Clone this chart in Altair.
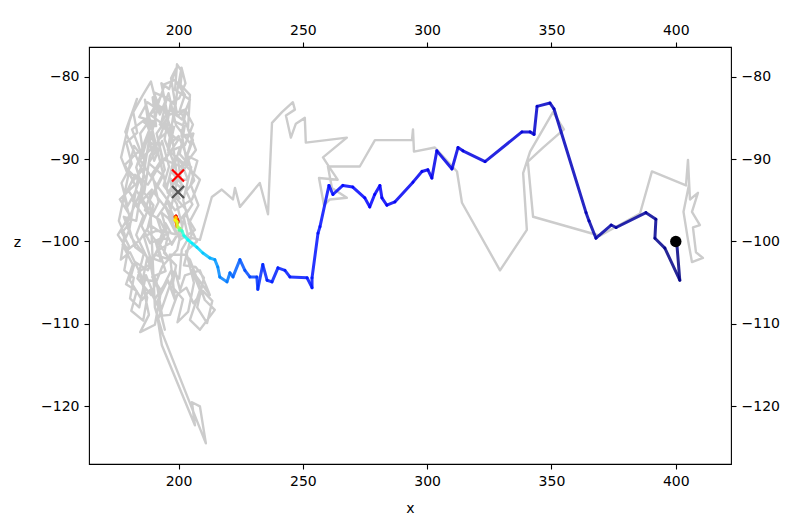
import altair as alt
import pandas as pd

# ---------------- data ----------------
# grey trajectory (earlier run)
gray_x = [200.6, 197.3, 202.6, 194.5, 199.8, 192.5, 196.5, 201.4, 204.6, 198.6,
          199.4, 201.4, 200.8, 204.6, 203.8, 207.0, 202.6, 208.6, 205.4, 198.6,
          192.5, 188.5, 184.5, 190.5, 186.5, 181.3, 184.5, 178.4, 182.5, 176.4,
          180.4, 175.6, 179.6, 184.5, 188.5, 194.5, 190.5, 196.5, 192.5, 187.7,
          182.5, 180.4, 185.3, 188.5, 192.5, 194.5, 191.7, 195.7, 198.6, 196.5,
          202.6, 204.6, 210.6, 214.6, 208.6, 204.6, 208.6, 205.4, 212.6, 208.6,
          202.6, 200.6, 198.6,
          191.7, 193.3, 206.6, 205.4, 208.6, 211.0, 193.7, 190.5,
          188.5, 194.5, 191.7, 196.5, 188.5, 193.3, 198.6, 195.7, 200.6, 203.8,
          198.6, 194.5, 200.6, 197.3, 192.5, 186.5, 189.3, 183.6, 179.6, 182.5,
          187.7, 192.5, 197.3, 202.6, 205.8, 202.6, 196.5, 191.7, 194.5, 198.6,
          202.6, 200.6, 205.8, 200.6, 195.7, 186.5, 188.5, 183.0, 178.0, 181.0,
          186.0, 183.5, 189.0, 193.5, 199.5, 202.6, 206.6, 200.6,
          195.0, 190.2, 193.8, 188.0, 191.5, 186.9, 189.8, 184.2, 187.5, 192.8,
          190.1, 195.3, 193.0, 198.2, 195.9, 200.7, 197.4, 202.1, 198.9, 203.5,
          199.2, 195.6, 191.3, 193.9, 188.6, 185.1, 187.9, 183.0, 179.5, 177.1,
          181.2, 179.0, 183.4, 181.8, 185.7, 188.9, 191.6, 187.3, 184.0, 180.2,
          177.5, 181.6, 178.9, 183.2, 181.0, 185.8, 187.4, 183.9, 189.3, 186.1,
          191.0, 196.0, 194.2, 199.0, 197.5, 201.8, 199.6, 203.9, 206.2, 203.0,
          207.4, 204.1, 208.0, 204.9, 207.6, 203.4, 206.0, 201.2, 203.0, 199.5,
          197.0, 199.0, 196.2, 193.1, 195.8, 191.2, 193.6, 189.4, 192.0, 189.0,
          185.0, 186.8, 182.3, 178.6, 183.3, 180.2, 176.9, 179.8, 176.0, 178.3,
          176.8, 180.5, 184.8, 188.1, 184.6, 190.5, 193.0, 189.4, 194.8, 192.1,
          197.8, 201.5, 199.3, 195.2, 197.9, 194.4, 196.9, 200.3, 202.8, 201.2,
          199.4, 198.1, 202.5, 200.5, 205.1, 201.9, 205.3, 202.2, 206.9, 210.2,
          207.5, 211.5, 213.6, 209.8, 206.0, 203.2, 199.6, 196.6, 193.4, 191.2,
          187.0, 182.6, 179.4, 181.8, 185.4, 183.0, 186.0, 188.7, 186.0, 190.4,
          194.0, 197.2, 199.5, 196.0, 199.0,
          197.5, 193.2, 195.9, 190.7, 192.9, 188.2, 190.0, 185.6, 187.4, 183.0,
          185.9, 181.5, 184.1, 179.9, 182.1, 185.4, 187.8, 190.2, 193.4, 196.2,
          194.0, 198.5, 196.5, 201.4, 199.8, 203.6, 201.0, 204.4, 199.0, 196.0,
          192.5, 189.6, 191.0, 187.2, 184.6, 186.6, 181.0, 178.1, 180.9, 177.2,
          180.0, 178.2, 182.0, 180.5, 184.2, 186.9, 190.7, 194.0, 197.1, 200.3,
          201.3, 204.0, 202.1, 205.6, 203.1, 206.3, 204.0, 200.0, 197.2, 194.6,
          191.4, 188.5, 186.2, 189.9, 187.4, 191.9, 194.8, 197.0,
          208.6, 213.4, 217.4, 221.9, 222.7, 224.7, 232.7, 236.0, 236.4, 237.6,
          241.6, 246.0, 246.8, 243.2, 245.2, 247.2, 250.8, 251.2, 267.7, 258.1,
          260.9, 264.0, 256.5, 258.5, 260.9, 267.7, 261.7, 260.1, 272.9, 279.0,
          293.9, 294.3, 294.7, 303.1, 312.0, 314.0, 329.3, 340.1, 338.6, 341.4,
          350.6, 355.0, 346.6, 340.5, 342.6, 369.5, 385.6, 390.4, 404.1, 404.9,
          405.7, 408.9, 406.5, 409.7, 406.9, 408.1, 410.9, 406.5, 404.9, 403.1,
          405.3]
gray_z = [-94.9, -93.0, -91.1, -90.1, -87.7, -85.8, -84.0, -85.2, -82.8, -81.6,
          -78.5, -79.4, -81.0, -82.2, -86.4, -88.9, -90.7, -92.5, -94.9, -96.2,
          -93.7, -91.9, -90.1, -88.3, -85.2, -86.4, -88.9, -90.7, -93.1, -94.9,
          -96.8, -99.2, -101.0, -99.8, -98.0, -99.2, -101.6, -102.2, -100.4, -103.5,
          -102.5, -104.7, -107.1, -105.9, -108.3, -110.7, -107.1, -104.7, -107.1, -101.6,
          -101.6, -102.2, -107.1, -108.3, -110.7, -109.5, -105.9, -103.5, -106.5, -103.5,
          -104.1, -105.9, -103.5,
          -109.5, -112.6, -122.3, -119.5, -120.0, -124.5, -111.3, -108.0,
          -94.9, -91.3, -87.7, -86.4, -84.6, -82.2, -83.4, -88.9, -90.1, -92.5,
          -92.5, -95.6, -98.6, -100.4, -97.4, -96.2, -93.7, -95.6, -93.7, -91.9,
          -93.1, -90.7, -88.9, -88.3, -85.8, -84.0, -84.6, -83.4, -80.9, -80.4,
          -82.2, -84.0, -87.7, -91.9, -94.1, -82.8, -87.0, -97.5, -97.0, -99.5,
          -101.5, -104.5, -106.5, -103.0, -101.0, -96.6, -98.6, -99.8,
          -96.0, -94.1, -92.0, -90.5, -88.7, -87.5, -85.4, -84.9, -83.1, -84.2,
          -81.9, -82.6, -85.7, -86.1, -89.2, -88.5, -91.6, -93.4, -94.7, -96.3,
          -97.9, -95.2, -97.1, -99.5, -100.2, -98.1, -96.0, -93.8, -95.7, -92.9,
          -90.6, -88.0, -86.8, -84.3, -82.2, -80.6, -83.8, -89.4, -91.7, -98.6,
          -100.4, -102.8, -105.2, -106.0, -108.4, -109.6, -106.8, -103.7, -102.6, -99.4,
          -98.7, -98.9, -101.4, -102.9, -105.5, -107.0, -109.8, -108.5, -105.0, -101.2,
          -100.0, -97.8, -95.6, -93.1, -90.2, -89.6, -86.9, -87.2, -83.9, -84.8,
          -80.2, -79.0, -81.5, -80.8, -84.9, -86.9, -89.9, -91.8, -95.2, -97.0,
          -95.1, -92.4, -89.2, -86.7, -82.7, -85.5, -89.8, -92.0, -97.5, -99.1,
          -102.2, -101.3, -104.0, -108.9, -111.0, -110.1, -106.0, -104.3, -103.6, -101.0,
          -100.0, -98.2, -95.4, -93.6, -90.3, -87.6, -83.2, -82.6, -80.8, -78.9,
          -81.9, -85.4, -86.0, -89.4, -91.0, -95.0, -99.1, -102.9, -103.1, -104.4,
          -108.0, -109.9, -107.2, -106.0, -107.5, -105.6, -106.4, -108.9, -109.0, -105.0,
          -101.7, -100.7, -97.7, -96.0, -93.5, -91.0, -88.2, -86.1, -85.5, -84.0,
          -83.6, -86.6, -92.6, -97.2, -99.0,
          -97.6, -96.5, -99.6, -99.9, -102.4, -101.9, -104.8, -104.6, -102.0, -99.2,
          -96.9, -95.0, -92.6, -91.4, -88.4, -89.7, -87.1, -90.2, -87.8, -90.9,
          -93.2, -95.0, -92.3, -93.6, -90.0, -90.8, -86.5, -88.0, -85.9, -82.0,
          -84.6, -82.5, -86.0, -85.8, -86.9, -90.9, -92.9, -94.6, -97.6, -98.9,
          -100.5, -103.5, -104.4, -106.9, -108.0, -104.1, -106.9, -105.4, -103.5, -104.5,
          -101.0, -99.6, -97.1, -95.5, -93.9, -92.6, -90.1, -87.2, -88.0, -85.6,
          -88.2, -89.6, -94.1, -95.6, -98.6, -100.3, -97.8, -99.0,
          -99.8, -94.6, -93.7, -94.9, -93.5, -95.8, -92.9, -96.7, -93.7, -85.6,
          -84.3, -83.1, -84.0, -84.7, -87.4, -85.7, -85.0, -88.0, -87.4, -89.8,
          -91.1, -92.5, -92.3, -95.6, -94.9, -94.7, -93.5, -90.9, -90.9, -87.7,
          -87.7, -86.4, -89.1, -88.6, -91.5, -95.3, -103.5, -98.6, -91.7, -89.1,
          -84.3, -86.4, -88.6, -90.3, -97.0, -99.3, -96.6, -91.5, -93.2, -90.1,
          -94.9, -94.1, -96.4, -98.0, -98.3, -101.3, -102.0, -102.5, -99.8, -96.4,
          -93.1]

# coloured trajectory (current run), with its normalised time
path_x = [199.8, 199.4, 199.0, 199.8, 198.6, 199.4, 199.0, 198.6, 199.4, 199.8,
          200.6, 200.2, 201.4, 202.2, 203.8, 205.4, 207.4, 209.8, 212.6, 214.6,
          215.8, 216.6, 219.5, 220.7, 221.9, 224.7, 226.7, 228.7, 231.5, 231.9,
          233.9, 235.6, 237.6, 240.0, 242.8, 244.8, 251.7, 253.7, 253.7, 256.1,
          256.9, 260.5, 262.1, 266.1, 270.1, 274.9, 276.9, 278.9, 281.0, 281.8,
          283.8, 287.0, 294.3, 297.9, 300.3, 301.9, 303.9, 310.0, 312.4, 314.4,
          323.3, 338.1, 341.4, 343.0, 344.2, 349.4, 351.0, 363.9, 365.1, 367.9,
          374.0, 376.0, 388.0, 392.0, 391.6, 395.6, 401.6, 400.4]
path_z = [-97.7, -97.3, -96.9, -97.5, -97.0, -98.2, -97.1, -97.4, -97.6, -98.3,
          -98.4, -98.6, -98.7, -99.3, -99.8, -100.2, -100.7, -101.4, -102.0, -102.2,
          -103.1, -104.3, -104.9, -103.8, -104.3, -102.2, -103.5, -104.3, -104.3, -105.8,
          -102.8, -104.7, -104.9, -103.2, -103.5, -104.3, -104.4, -105.6, -104.4, -99.0,
          -98.2, -93.2, -94.3, -93.2, -93.4, -94.7, -95.8, -94.3, -93.2, -94.7,
          -95.6, -95.2, -92.8, -91.5, -91.3, -92.3, -89.0, -91.2, -88.6, -89.0,
          -90.3, -86.7, -86.7, -87.0, -83.6, -83.2, -83.9, -96.5, -97.5, -99.6,
          -98.0, -98.3, -96.5, -97.3, -99.6, -100.8, -104.7, -100.2]
path_t = [0.00, 0.05, 0.10, 0.15, 0.20, 0.25, 0.30, 0.35, 0.40, 0.45,
          0.50, 0.55, 0.60, 0.63, 0.65, 0.67, 0.69, 0.71, 0.73, 0.75,
          0.76, 0.77, 0.78, 0.79, 0.80, 0.81, 0.82, 0.83, 0.84, 0.85,
          0.855, 0.86, 0.862, 0.864, 0.866, 0.868, 0.87, 0.872, 0.874, 0.876,
          0.878, 0.88, 0.882, 0.884, 0.886, 0.888, 0.89, 0.892, 0.894, 0.896,
          0.898, 0.90, 0.902, 0.904, 0.906, 0.908, 0.91, 0.912, 0.914, 0.916,
          0.92, 0.925, 0.93, 0.935, 0.94, 0.945, 0.95, 0.955, 0.96, 0.965,
          0.97, 0.975, 0.98, 0.985, 0.99, 0.995, 0.998, 1.0]

cross_x = [199.8, 199.8]
cross_z = [-92.0, -94.0]
cross_color = ["#ff0000", "#555555"]
goal_x = [400.0]
goal_z = [-100.0]

x_ticks = [200, 250, 300, 350, 400]
z_ticks = [-80, -90, -100, -110, -120]

# ---------------- tables ----------------
gray_df = pd.DataFrame({"i": range(len(gray_x)), "x": gray_x, "z": gray_z})
seg_df = pd.DataFrame({
    "x": path_x[:-1], "z": path_z[:-1],
    "x2": path_x[1:], "z2": path_z[1:],
    "t": path_t[:-1],
})
cross_df = pd.DataFrame({"x": cross_x, "z": cross_z, "c": cross_color})
goal_df = pd.DataFrame({"x": goal_x, "z": goal_z})

xs = alt.Scale(domain=[164.0, 422.2], nice=False, zero=False)
zs = alt.Scale(domain=[-127.0, -76.4], nice=False, zero=False)

FONT = "DejaVu Sans"

gray = alt.Chart(gray_df).mark_line(color="#cccccc", strokeWidth=2.4, strokeJoin="round").encode(
    x=alt.X("x:Q", scale=xs, axis=alt.Axis(orient="bottom", values=x_ticks, title="x",
                                            titleY=44, titleBaseline="middle")),
    y=alt.Y("z:Q", scale=zs, axis=alt.Axis(orient="left", values=z_ticks, title="z",
                                            titleAngle=0, titleX=-72, titleY=195,
                                            titleAlign="center", titleBaseline="middle")),
    order="i:Q",
)

ghost = alt.Chart(gray_df).mark_point(opacity=0).encode(
    x=alt.X("x:Q", axis=alt.Axis(orient="top", values=x_ticks, title=None)),
    y=alt.Y("z:Q", axis=alt.Axis(orient="right", values=z_ticks, title=None)),
)

jet_dom = [0.0, 0.11, 0.35, 0.5, 0.65, 0.89, 1.0]
jet_rng = ["#800000", "#ff0000", "#ffff00", "#80ff80", "#00ffff", "#0000ff", "#000080"]

segs = alt.Chart(seg_df).mark_rule(strokeWidth=3, strokeCap="round", opacity=0.85).encode(
    x=alt.X("x:Q", axis=None),
    y=alt.Y("z:Q", axis=None),
    x2="x2:Q",
    y2="z2:Q",
    color=alt.Color("t:Q", scale=alt.Scale(domain=jet_dom, range=jet_rng, interpolate="rgb"),
                    legend=None),
)

crosses = alt.Chart(cross_df).mark_point(
    shape="M-1,-1L1,1M-1,1L1,-1", size=144, filled=False, strokeWidth=2.2, opacity=1
).encode(
    x=alt.X("x:Q", axis=None),
    y=alt.Y("z:Q", axis=None),
    color=alt.Color("c:N", scale=None, legend=None),
)

goal = alt.Chart(goal_df).mark_circle(size=130, color="black", opacity=1).encode(
    x=alt.X("x:Q", axis=None),
    y=alt.Y("z:Q", axis=None),
)

chart = alt.layer(gray, ghost, segs, crosses, goal).resolve_axis(
    x="independent", y="independent"
).properties(
    width=642, height=417,
    autosize=alt.AutoSizeParams(type="none"),
    padding={"left": 81, "top": 39, "right": 61, "bottom": 56},
    background="white",
).configure_view(
    stroke="black", strokeWidth=1.1
).configure_axis(
    grid=False, domain=False,
    labelFont=FONT, labelFontSize=14, labelColor="black", labelPadding=5,
    tickColor="black", tickSize=5, tickWidth=1.1,
    titleFont=FONT, titleFontSize=14, titleFontWeight="normal", titleColor="black",
)

chart.save("out.html", embed_options={"renderer": "svg", "actions": False})
